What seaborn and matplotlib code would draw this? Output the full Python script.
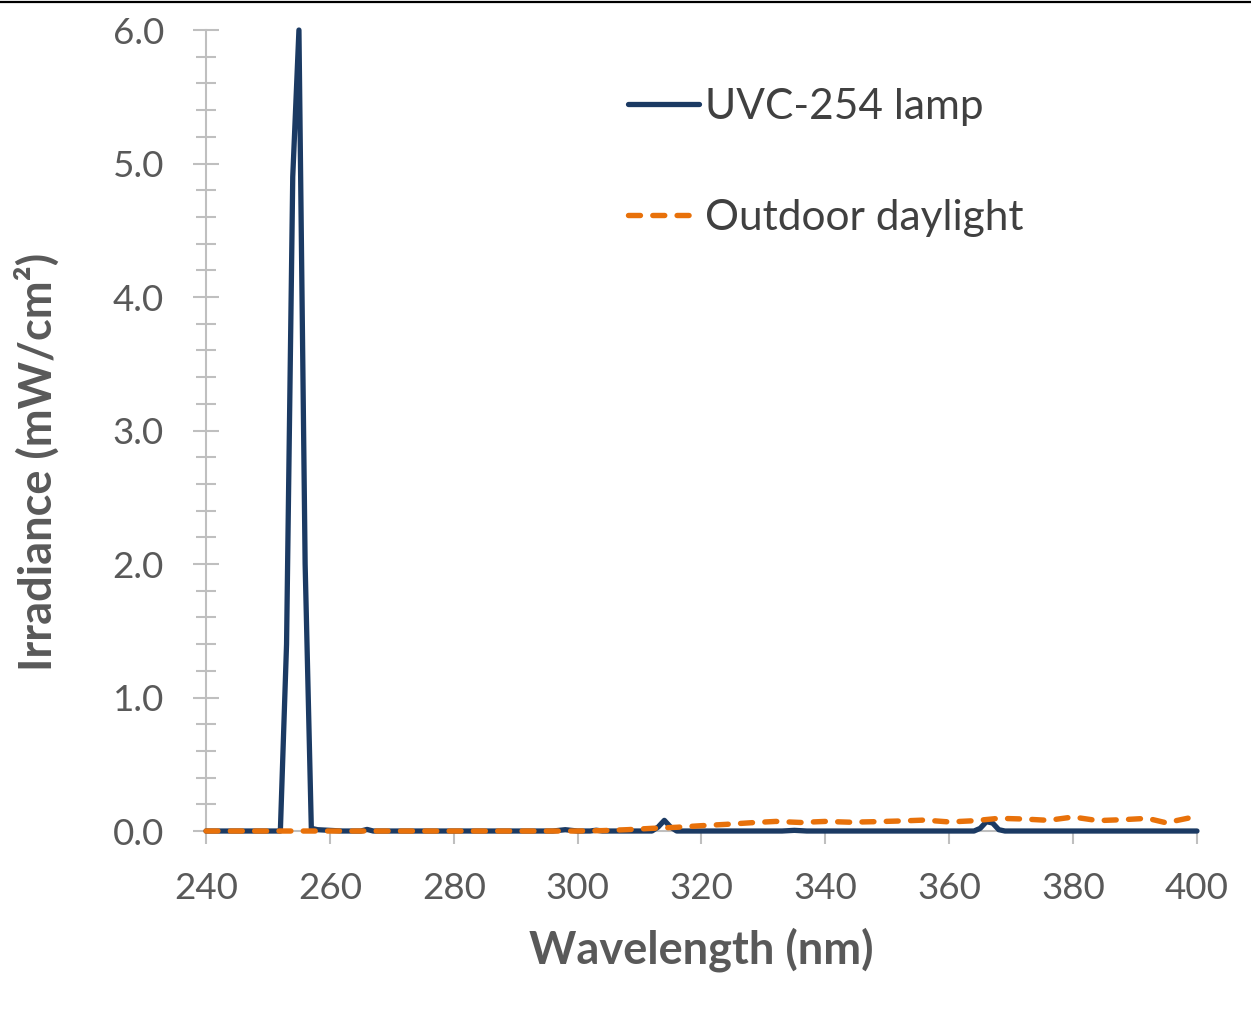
import matplotlib
matplotlib.use("Agg")
import matplotlib.pyplot as plt
from matplotlib.lines import Line2D
from matplotlib.ticker import MultipleLocator, FormatStrFormatter
import seaborn as sns
import pandas as pd

# UVC-254 lamp spectrum (mW/cm^2), sparse points along a zero baseline
uvc_wavelength = [240, 250, 252, 253, 254, 255, 256, 257, 258, 262, 265, 266, 267,
                  270, 296, 298, 300, 302, 303, 304, 306, 312, 313, 314, 315, 316,
                  333, 335, 337, 364, 365, 366, 367, 368, 369, 400]
uvc_irradiance = [0.0, 0.0, 0.0, 1.4, 4.9, 6.0, 2.0, 0.02, 0.01, 0.0, 0.0, 0.012, 0.0,
                  0.0, 0.0, 0.01, 0.0, 0.0, 0.006, 0.0, 0.0, 0.0, 0.03, 0.08, 0.03, 0.0,
                  0.0, 0.005, 0.0, 0.0, 0.02, 0.07, 0.06, 0.01, 0.0, 0.0]

# Outdoor daylight spectrum (mW/cm^2)
day_wavelength = [240, 260, 280, 300, 304, 308, 312, 316, 320, 324, 328, 332, 336,
                  340, 344, 348, 352, 356, 360, 364, 368, 372, 376, 380, 384, 388,
                  392, 395, 400]
day_irradiance = [0.0, 0.0, 0.0, 0.0, 0.003, 0.01, 0.02, 0.028, 0.04, 0.05, 0.062,
                  0.072, 0.064, 0.072, 0.066, 0.07, 0.075, 0.082, 0.068, 0.077, 0.095,
                  0.09, 0.08, 0.105, 0.078, 0.085, 0.095, 0.062, 0.11]

series_names = ["UVC-254 lamp", "Outdoor daylight"]
x_ticks = [240, 260, 280, 300, 320, 340, 360, 380, 400]
y_ticks = [0.0, 1.0, 2.0, 3.0, 4.0, 5.0, 6.0]

uvc_df = pd.DataFrame({"wavelength": uvc_wavelength, "irradiance": uvc_irradiance})
day_df = pd.DataFrame({"wavelength": day_wavelength, "irradiance": day_irradiance})

sns.set_style("white")
plt.rcParams["font.family"] = ["Lato", "DejaVu Sans"]
plt.rcParams["lines.scale_dashes"] = False

NAVY = "#1B3A63"
ORANGE = "#E8710A"
AXIS_GRAY = "#BFBFBF"
TEXT_GRAY = "#595959"

fig = plt.figure(figsize=(12.51, 10.29), dpi=100)
ax = fig.add_axes([0.1647, 0.1924, 0.7921, 0.7784])

sns.lineplot(data=uvc_df, x="wavelength", y="irradiance", ax=ax, color=NAVY,
             linewidth=3.8, label=series_names[0], clip_on=False, zorder=3)
sns.lineplot(data=day_df, x="wavelength", y="irradiance", ax=ax, color=ORANGE,
             linewidth=3.9, label=series_names[1], clip_on=False, zorder=4)
day_line = ax.lines[-1]
day_line.set_dashes((8.6, 8.9))
day_line.set_dash_capstyle("round")
ax.lines[0].set_solid_joinstyle("round")

ax.set_xlim(240, 400)
ax.set_ylim(0, 6)
ax.set_xticks(x_ticks)
ax.set_yticks(y_ticks)
ax.yaxis.set_major_formatter(FormatStrFormatter("%.1f"))
ax.yaxis.set_minor_locator(MultipleLocator(0.2))

for side in ("top", "right"):
    ax.spines[side].set_visible(False)
for side in ("left", "bottom"):
    ax.spines[side].set_color(AXIS_GRAY)
    ax.spines[side].set_linewidth(1.5)

ax.tick_params(axis="y", which="major", direction="inout", length=19.4, width=1.5,
               color=AXIS_GRAY, labelsize=26.5, labelcolor=TEXT_GRAY, pad=20.5, left=True)
ax.tick_params(axis="y", which="minor", direction="inout", length=14.4, width=1.5,
               color=AXIS_GRAY, left=True)
ax.tick_params(axis="x", which="major", direction="out", length=9.5, width=1.5,
               color=AXIS_GRAY, labelsize=26.5, labelcolor=TEXT_GRAY, pad=19.8, bottom=True)

ax.set_xlabel("Wavelength (nm)", fontsize=32.5, fontweight="bold", color=TEXT_GRAY)
ax.xaxis.set_label_coords(0.5, -0.12)
ax.set_ylabel("")
fig.text(0.0296, 0.551, "Irradiance (mW/cm²)", rotation=90, ha="center", va="center",
         fontsize=32.5, fontweight="bold", color=TEXT_GRAY)

leg = ax.legend(loc="upper left", bbox_to_anchor=(0.4258, 0.928), frameon=False,
                fontsize=30.5, handlelength=1.68, handletextpad=0.15, labelspacing=1.72,
                borderpad=0, borderaxespad=0)
for text in leg.get_texts():
    text.set_color("#404040")
for handle in leg.get_lines():
    handle.set_solid_capstyle("round")
    handle.set_dash_capstyle("round")

# thin black rule along the top edge of the figure
fig.add_artist(Line2D([0, 1], [0.9985, 0.9985], transform=fig.transFigure,
                      color="black", linewidth=1.6))

fig.savefig("out.png", dpi=100)
